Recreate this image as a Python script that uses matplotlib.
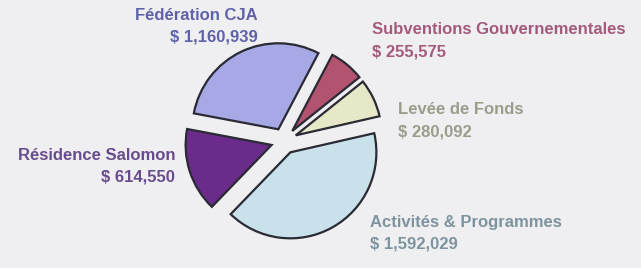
import matplotlib.pyplot as plt

labels = ['Activités & Programmes', 'Levée de Fonds', 'Subventions Gouvernementales',
          'Fédération CJA', 'Résidence Salomon']
amounts = [1592029, 280092, 255575, 1160939, 614550]
amount_text = ['$ 1,592,029', '$ 280,092', '$ 255,575', '$ 1,160,939', '$ 614,550']

slice_colors = ['#c9e1ea', '#e6e8c8', '#b2536f', '#a7a9e6', '#6b2b8b']
label_colors = ['#7d939f', '#9c9c8c', '#a35a7c', '#5f61a9', '#694c8c']

plt.rcParams['font.family'] = ['Liberation Sans', 'DejaVu Sans']

fig = plt.figure(figsize=(6.41, 2.68), dpi=100)
fig.patch.set_facecolor('#efeff1')
ax = fig.add_axes([0, 0, 1, 1])
ax.set_facecolor('#efeff1')

# explode is in data units here (radius is 86 units = 86 px)
ax.pie(amounts, colors=slice_colors, startangle=-134, counterclock=True,
       explode=[13] * 5, radius=86, center=(284, 127), frame=True,
       wedgeprops=dict(edgecolor='#2a2a35', linewidth=1.6))
ax.set_xlim(0, 641)
ax.set_ylim(0, 268)
ax.set_aspect('equal')
ax.axis('off')

# label positions (x, y of first line, alignment)
pos = [(370, 46, 'left'), (398, 158, 'left'), (372, 238, 'left'),
       (258, 253, 'right'), (175, 113, 'right')]
for (x, y, ha), lab, amt, c in zip(pos, labels, amount_text, label_colors):
    ax.text(x, y, lab, ha=ha, va='center', color=c, fontsize=12, fontweight='bold')
    ax.text(x, y - 22, amt, ha=ha, va='center', color=c, fontsize=12, fontweight='bold')

fig.savefig('out.png', dpi=100, facecolor=fig.get_facecolor())
